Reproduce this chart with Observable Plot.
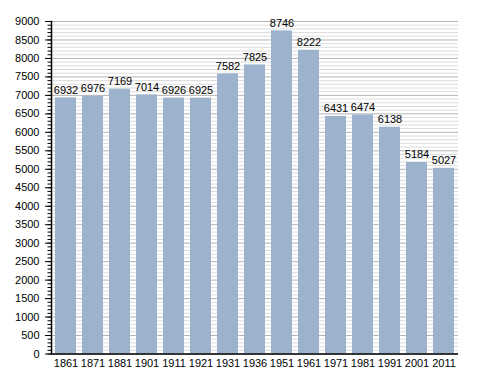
<!DOCTYPE html>
<html>
<head>
<meta charset="utf-8">
<script src="https://cdn.jsdelivr.net/npm/d3@7"></script>
<script src="https://cdn.jsdelivr.net/npm/@observablehq/plot@0.6"></script>
<style>
  html, body { margin: 0; padding: 0; background: #fff; }
  #chart { width: 488px; height: 373px; }
</style>
</head>
<body>
<div id="chart"></div>
<script>
const years = ["1861","1871","1881","1901","1911","1921","1931","1936","1951","1961","1971","1981","1991","2001","2011"];
const population = [6932, 6976, 7169, 7014, 6926, 6925, 7582, 7825, 8746, 8222, 6431, 6474, 6138, 5184, 5027];
const majorTicks = d3.range(0, 9001, 500);
const minorTicks = d3.range(0, 9001, 100);

const data = years.map((y, i) => ({year: y, value: population[i]}));

const chart = Plot.plot({
  width: 488,
  height: 373,
  marginLeft: 51,
  marginRight: 30,
  marginTop: 21,
  marginBottom: 19.5,
  style: {fontFamily: "'Liberation Sans', Arial, sans-serif", fontSize: "11px", color: "#000", background: "#fff"},
  x: {domain: years, paddingInner: 0.24, paddingOuter: 0, label: null},
  y: {domain: [0, 9000], label: null},
  marks: [
    Plot.ruleY(minorTicks.filter(d => d % 500 !== 0), {stroke: "#dcdcdc", strokeWidth: 1}),
    Plot.ruleY(majorTicks, {stroke: "#b4b4b4", strokeWidth: 1}),
    Plot.barY(data, {x: "year", y: "value", fill: "#9db3cd"}),
    Plot.text(data, {x: "year", y: "value", text: d => String(d.value), lineAnchor: "bottom", dy: -4, fill: "#000", fontSize: 11}),
    Plot.axisY({ticks: minorTicks, tickSize: 3.5, text: null, stroke: "#000"}),
    Plot.axisY({ticks: majorTicks, tickSize: 6, tickPadding: 6, tickFormat: d => String(d), stroke: "#000", fill: "#000", fontSize: 11, label: null}),
    Plot.axisX({tickSize: 0, tickPadding: 5, fill: "#000", fontSize: 11, label: null}),
    Plot.frame({anchor: "left", stroke: "#000", strokeWidth: 1.5}),
    Plot.ruleY([0], {stroke: "#000", strokeWidth: 1.5})
  ]
});
document.getElementById("chart").appendChild(chart);
</script>
</body>
</html>
